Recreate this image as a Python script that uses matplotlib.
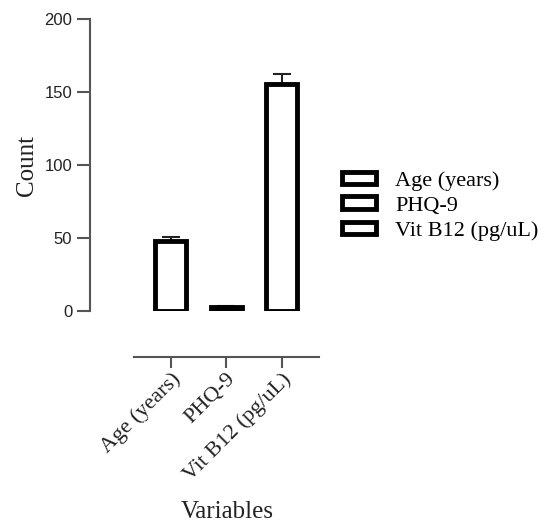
import matplotlib
matplotlib.use('Agg')
import matplotlib.pyplot as plt
import numpy as np

categories = ['Age (years)', 'PHQ-9', 'Vit B12 (pg/uL)']
means = [48, 3, 155.5]
errors = [3, 0.5, 7]
yticks = [0, 50, 100, 150, 200]

serif = 'Liberation Serif'
sans = 'Liberation Sans'
axis_grey = '#555555'

fig = plt.figure(figsize=(5.47, 5.22), dpi=100)
ax = fig.add_axes([134/547, 1 - 311/522, (319-134)/547, (311-19.3)/522])

# prism-style detached axes (set before tick labels, it resets ticks)
for s in ['top', 'right']:
    ax.spines[s].set_visible(False)
ax.spines['left'].set_position(('outward', 32))
ax.spines['bottom'].set_position(('outward', 33))
for s in ['left', 'bottom']:
    ax.spines[s].set_color(axis_grey)
    ax.spines[s].set_linewidth(1.5)

x = np.arange(len(categories))
for i, (cat, m) in enumerate(zip(categories, means)):
    ax.bar(x[i], m, width=0.56, color='white', edgecolor='black',
           linewidth=3.5, label=cat, zorder=3)
ax.errorbar(x, means, yerr=[np.zeros(len(errors)), errors], fmt='none',
            ecolor='#222222', elinewidth=1.5, capsize=6.5, capthick=1.5, zorder=2)

ax.set_xlim(-0.66, 2.67)
ax.set_ylim(0, 200)
ax.tick_params(axis='y', length=9.5, width=1.5, color=axis_grey, pad=3)
ax.tick_params(axis='x', length=8, width=1.5, color=axis_grey, pad=1)
ax.set_yticks(yticks)
ax.set_yticklabels([str(v) for v in yticks], fontfamily=sans, fontsize=12,
                   color='#222222')
ax.set_xticks(x)
ax.set_xticklabels(categories, rotation=45, ha='right', rotation_mode='anchor',
                   fontfamily=serif, fontsize=16, color='#222222')

ax.set_ylabel('Count', fontfamily=serif, fontsize=18, color='#222222')
ax.yaxis.set_label_coords(-0.52, 0.5)
ax.set_xlabel('Variables', fontfamily=serif, fontsize=18, color='#222222')
ax.xaxis.set_label_coords(0.503, -0.65)

fig.legend(loc='center left', bbox_to_anchor=(342/547, 1 - 206/522),
           frameon=False, borderpad=0, borderaxespad=0,
           prop={'family': serif, 'size': 16},
           handlelength=1.55, handleheight=0.5, handletextpad=0.85,
           labelspacing=0.25)

fig.savefig('out.png', dpi=100)
